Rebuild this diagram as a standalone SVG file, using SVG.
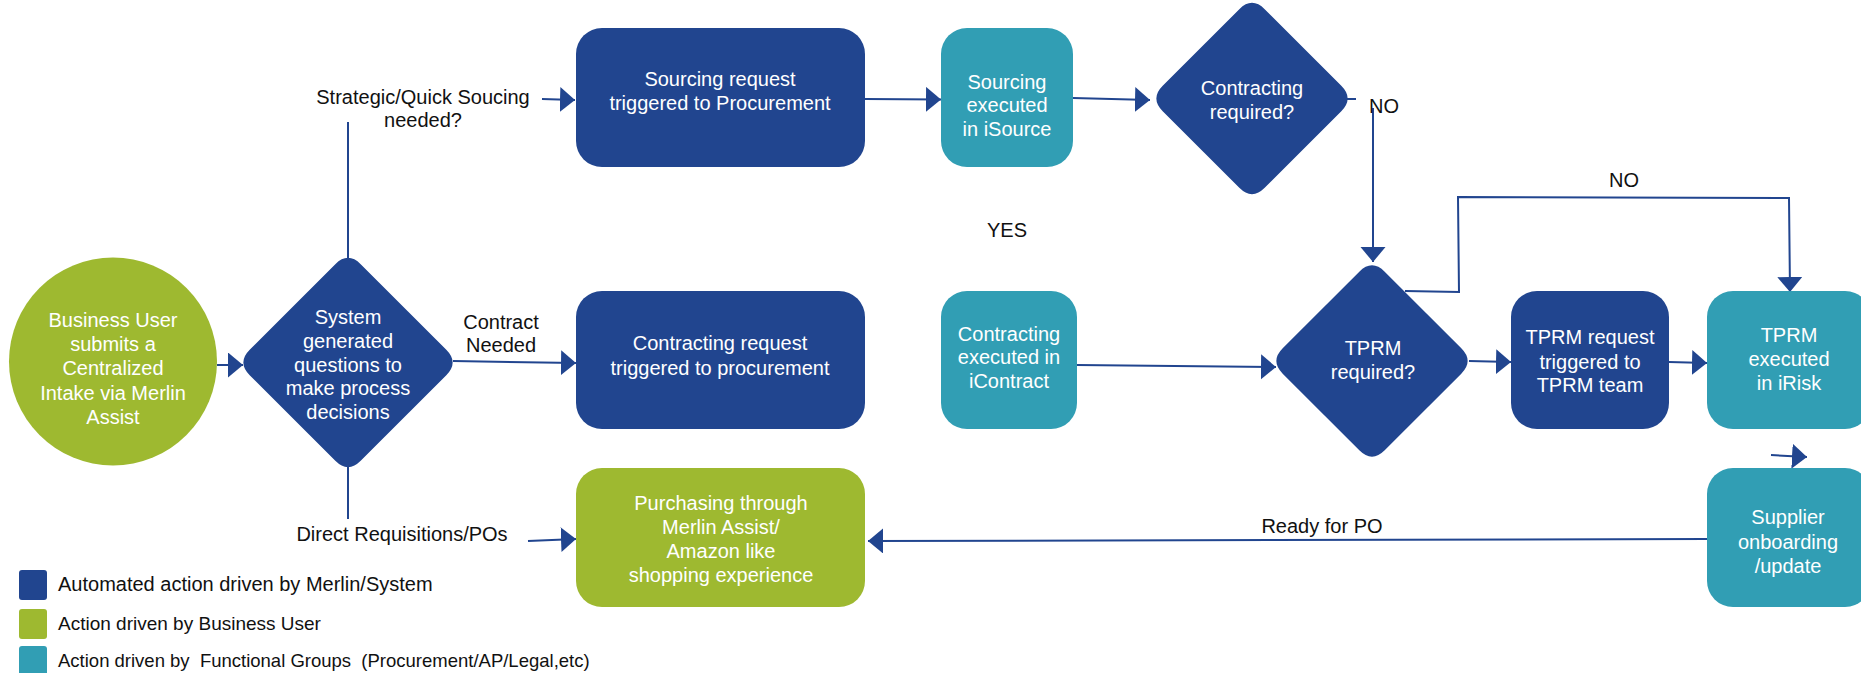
<svg xmlns="http://www.w3.org/2000/svg" width="1861" height="673" viewBox="0 0 1861 673">
<style>
text{font-family:"Liberation Sans",Arial,sans-serif;font-size:20px;text-anchor:middle}
.w{fill:#ffffff}
.k{fill:#111111}
.blue{fill:#21458F}
.green{fill:#9EB930}
.teal{fill:#319EB4}
.conn line,.conn path{stroke:#21458F;stroke-width:2;fill:none}
.arr{marker-end:url(#ah)}
.leg{text-anchor:start;fill:#111111;white-space:pre}
</style>
<defs>
<marker id="ah" markerUnits="userSpaceOnUse" markerWidth="16" markerHeight="26" refX="15" refY="12.5" orient="auto">
<path d="M0,0 L15,12.5 L0,25 Z" fill="#21458F"/>
</marker>
</defs>
<rect width="1861" height="673" fill="#ffffff"/>

<g class="conn" id="connectors">
<line class="arr" x1="217" y1="365" x2="243" y2="365"/>
<line x1="348" y1="258" x2="348" y2="122"/>
<line class="arr" x1="542" y1="99" x2="575" y2="100"/>
<line class="arr" x1="865" y1="99" x2="941" y2="99.5"/>
<line class="arr" x1="1073" y1="98" x2="1150" y2="100"/>
<line x1="1347" y1="99" x2="1356" y2="99"/>
<line class="arr" x1="1373" y1="108" x2="1373" y2="262"/>
<line class="arr" x1="1077" y1="365" x2="1276" y2="367"/>
<line class="arr" x1="1469" y1="361" x2="1511" y2="362"/>
<line class="arr" x1="1669" y1="362" x2="1707" y2="363"/>
<path class="arr" d="M1405,291 L1459,292 L1458,197 L1789,198 L1790,292"/>
<line class="arr" x1="453" y1="361" x2="576" y2="363"/>
<line x1="348" y1="467" x2="348" y2="519"/>
<line class="arr" x1="528" y1="541" x2="576" y2="539"/>
<line class="arr" x1="1707" y1="539" x2="868" y2="541"/>
<line class="arr" x1="1771" y1="455" x2="1807" y2="457"/>
</g>

<g id="labels">
<text class="k" x="423" y="104">Strategic/Quick Soucing</text>
<text class="k" x="423" y="127">needed?</text>
<text class="k" x="501" y="329">Contract</text>
<text class="k" x="501" y="352">Needed</text>
<text class="k" x="402" y="541">Direct Requisitions/POs</text>
<text class="k" x="1007" y="237">YES</text>
<text class="k" x="1384" y="113">NO</text>
<text class="k" x="1624" y="187">NO</text>
<text class="k" x="1322" y="533">Ready for PO</text>
</g>

<g id="start">
<circle class="green" cx="113" cy="361.5" r="104"/>
<text class="w" x="113" y="327">Business User</text>
<text class="w" x="113" y="351">submits a</text>
<text class="w" x="113" y="375">Centralized</text>
<text class="w" x="113" y="400">Intake via Merlin</text>
<text class="w" x="113" y="424">Assist</text>
</g>

<g id="system-questions">
<path class="blue" d="M335.3,264.2 Q348,251.5 360.7,264.2 L446.3,349.8 Q459,362.5 446.3,375.2 L360.7,460.8 Q348,473.5 335.3,460.8 L249.7,375.2 Q237,362.5 249.7,349.8 Z"/>
<text class="w" x="348" y="324">System</text>
<text class="w" x="348" y="348">generated</text>
<text class="w" x="348" y="372">questions to</text>
<text class="w" x="348" y="395">make process</text>
<text class="w" x="348" y="419">decisions</text>
</g>

<g id="sourcing-request">
<rect class="blue" x="576" y="28" width="289" height="139" rx="26"/>
<text class="w" x="720" y="86">Sourcing request</text>
<text class="w" x="720" y="110">triggered to Procurement</text>
</g>

<g id="sourcing-executed">
<rect class="teal" x="941" y="28" width="132" height="139" rx="26"/>
<text class="w" x="1007" y="89">Sourcing</text>
<text class="w" x="1007" y="112">executed</text>
<text class="w" x="1007" y="136">in iSource</text>
</g>

<g id="contracting-required">
<path class="blue" d="M1239.3,9.2 Q1252,-3.5 1264.7,9.2 L1341.3,85.8 Q1354,98.5 1341.3,111.2 L1264.7,187.8 Q1252,200.5 1239.3,187.8 L1162.7,111.2 Q1150,98.5 1162.7,85.8 Z"/>
<text class="w" x="1252" y="95">Contracting</text>
<text class="w" x="1252" y="119">required?</text>
</g>

<g id="contracting-request">
<rect class="blue" x="576" y="291" width="289" height="138" rx="26"/>
<text class="w" x="720" y="350">Contracting request</text>
<text class="w" x="720" y="375">triggered to procurement</text>
</g>

<g id="contracting-executed">
<rect class="teal" x="941" y="291" width="136" height="138" rx="26"/>
<text class="w" x="1009" y="341">Contracting</text>
<text class="w" x="1009" y="364">executed in</text>
<text class="w" x="1009" y="388">iContract</text>
</g>

<g id="tprm-required">
<path class="blue" d="M1359.3,271.7 Q1372,259 1384.7,271.7 L1461.3,348.3 Q1474,361 1461.3,373.7 L1384.7,450.3 Q1372,463 1359.3,450.3 L1282.7,373.7 Q1270,361 1282.7,348.3 Z"/>
<text class="w" x="1373" y="355">TPRM</text>
<text class="w" x="1373" y="379">required?</text>
</g>

<g id="tprm-request">
<rect class="blue" x="1511" y="291" width="158" height="138" rx="26"/>
<text class="w" x="1590" y="344">TPRM request</text>
<text class="w" x="1590" y="369">triggered to</text>
<text class="w" x="1590" y="392">TPRM team</text>
</g>

<g id="tprm-executed">
<rect class="teal" x="1707" y="291" width="164" height="138" rx="26"/>
<text class="w" x="1789" y="342">TPRM</text>
<text class="w" x="1789" y="366">executed</text>
<text class="w" x="1789" y="390">in iRisk</text>
</g>

<g id="supplier-onboarding">
<rect class="teal" x="1707" y="468" width="164" height="139" rx="26"/>
<text class="w" x="1788" y="524">Supplier</text>
<text class="w" x="1788" y="549">onboarding</text>
<text class="w" x="1788" y="573">/update</text>
</g>

<g id="purchasing">
<rect class="green" x="576" y="468" width="289" height="139" rx="26"/>
<text class="w" x="721" y="510">Purchasing through</text>
<text class="w" x="721" y="534">Merlin Assist/</text>
<text class="w" x="721" y="558">Amazon like</text>
<text class="w" x="721" y="582">shopping experience</text>
</g>

<g id="legend">
<rect class="blue" x="19" y="570" width="28" height="30" rx="3"/>
<text class="leg" x="58" y="591" style="font-size:20px">Automated action driven by Merlin/System</text>
<rect class="green" x="19" y="609" width="28" height="30" rx="3"/>
<text class="leg" x="58" y="630" style="font-size:19px">Action driven by Business User</text>
<rect class="teal" x="19" y="646" width="28" height="30" rx="3"/>
<text class="leg" x="58" y="667" style="font-size:18.5px" xml:space="preserve">Action driven by  Functional Groups  (Procurement/AP/Legal,etc)</text>
</g>
</svg>
